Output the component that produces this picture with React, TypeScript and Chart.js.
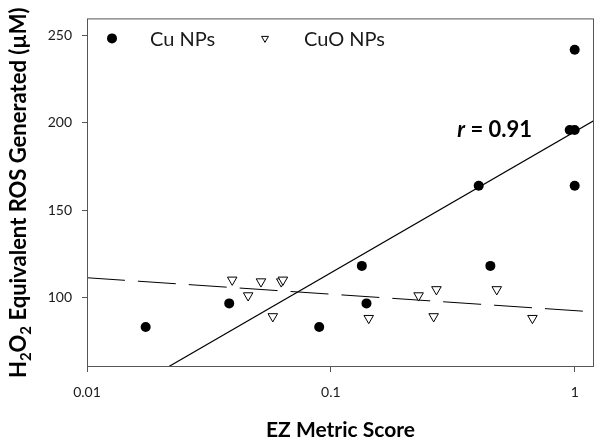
import React, { useEffect, useRef } from 'react';
import { Chart, registerables } from 'chart.js';

Chart.register(...registerables);

// ---- Data ----
const CU_X = [0.0174, 0.0383, 0.0896, 0.134, 0.14, 0.404, 0.451, 0.954, 1.0, 1.0, 1.0];
const CU_Y = [83, 96.5, 83, 118, 96.5, 164, 118, 196, 196, 164, 242];

const CUO_X = [0.0394, 0.0458, 0.0517, 0.0578, 0.0626, 0.0636, 0.143, 0.229, 0.264, 0.271, 0.479, 0.671];
const CUO_Y = [110, 101, 109, 89, 109, 110, 88, 101, 89, 104.5, 104.5, 88];

const FIT_CU_X = [0.0215, 1.2];
const FIT_CU_Y = [60, 201.4];
const FIT_CUO_X = [0.01, 1.2];
const FIT_CUO_Y = [111.2, 91.6];

const X_TICKS = [0.01, 0.1, 1];
const X_TICK_LABELS = ['0.01', '0.1', '1'];
const Y_TICKS = [100, 150, 200, 250];
const Y_TICK_LABELS = ['100', '150', '200', '250'];

const SERIES_NAMES = ['Cu NPs', 'CuO NPs'];
const X_TITLE = 'EZ Metric Score';
const Y_TITLE_PARTS = [
  { t: 'H', sub: false },
  { t: '2', sub: true },
  { t: 'O', sub: false },
  { t: '2', sub: true },
  { t: ' Equivalent ROS Generated (\u00B5M)', sub: false },
];
const R_LABEL_ITALIC = 'r';
const R_LABEL_REST = ' = 0.91';

const FONT = 'Lato';
const FRAME = '#555555';
const TEXT = '#1a1a1a';

const zip = (xs: number[], ys: number[]) => xs.map((x, i) => ({ x, y: ys[i] }));

const decorPlugin = {
  id: 'decor',
  afterDraw(chart: any) {
    const { ctx, chartArea: a } = chart;
    const xs = chart.scales.x;
    const ys = chart.scales.y;
    ctx.save();
    // frame
    ctx.strokeStyle = FRAME;
    ctx.lineWidth = 1;
    ctx.strokeRect(a.left + 0.5, a.top + 0.5, a.right - a.left - 1, a.bottom - a.top - 1);

    // legend
    ctx.fillStyle = '#000';
    const ly = a.top + 20;
    ctx.beginPath();
    ctx.arc(a.left + 25, ly, 5, 0, Math.PI * 2);
    ctx.fill();
    ctx.font = `20px ${FONT}`;
    ctx.textBaseline = 'middle';
    ctx.textAlign = 'left';
    ctx.fillStyle = TEXT;
    ctx.fillText(SERIES_NAMES[0], a.left + 63, ly + 1);
    // triangle legend marker
    const tx = a.left + 178;
    const r = 4;
    ctx.beginPath();
    ctx.moveTo(tx, ly + r);
    ctx.lineTo(tx - r * 0.866, ly - r * 0.5);
    ctx.lineTo(tx + r * 0.866, ly - r * 0.5);
    ctx.closePath();
    ctx.fillStyle = '#fff';
    ctx.fill();
    ctx.strokeStyle = '#000';
    ctx.lineWidth = 1;
    ctx.stroke();
    ctx.fillStyle = TEXT;
    ctx.fillText(SERIES_NAMES[1], a.left + 217, ly + 1);

    // r annotation
    const rx = xs.getPixelForValue(0.33);
    const ry = ys.getPixelForValue(192);
    ctx.textBaseline = 'alphabetic';
    ctx.fillStyle = '#000';
    ctx.font = `italic bold 22px ${FONT}`;
    ctx.fillText(R_LABEL_ITALIC, rx, ry);
    const w0 = ctx.measureText(R_LABEL_ITALIC).width;
    ctx.font = `bold 22px ${FONT}`;
    ctx.fillText(R_LABEL_REST, rx + w0, ry);

    // x title
    ctx.font = `bold 21px ${FONT}`;
    ctx.textAlign = 'center';
    ctx.fillText(X_TITLE, (a.left + a.right) / 2, 437);

    // y title with subscripts
    const big = `bold 22px ${FONT}`;
    const small = `bold 15px ${FONT}`;
    let total = 0;
    const widths = Y_TITLE_PARTS.map((p) => {
      ctx.font = p.sub ? small : big;
      const w = ctx.measureText(p.t).width;
      total += w;
      return w;
    });
    ctx.translate(26, (a.top + a.bottom) / 2);
    ctx.rotate(-Math.PI / 2);
    ctx.textAlign = 'left';
    let cx = -total / 2;
    Y_TITLE_PARTS.forEach((p, i) => {
      ctx.font = p.sub ? small : big;
      ctx.fillText(p.t, cx, p.sub ? 5 : 0);
      cx += widths[i];
    });
    ctx.restore();
  },
};

export default function App() {
  const ref = useRef<HTMLCanvasElement>(null);
  useEffect(() => {
    document.body.style.margin = '0';
    Chart.defaults.font.family = FONT;
    const chart = new Chart(ref.current as HTMLCanvasElement, {
      type: 'scatter',
      data: {
        datasets: [
          {
            label: SERIES_NAMES[0],
            data: zip(CU_X, CU_Y),
            pointStyle: 'circle',
            pointRadius: 5,
            backgroundColor: '#000',
            borderColor: '#000',
            borderWidth: 0,
          },
          {
            label: SERIES_NAMES[1],
            data: zip(CUO_X, CUO_Y),
            pointStyle: 'triangle',
            rotation: 180,
            pointRadius: 5.5,
            backgroundColor: '#fff',
            borderColor: '#000',
            borderWidth: 1,
          },
          {
            type: 'line',
            label: 'Cu fit',
            data: zip(FIT_CU_X, FIT_CU_Y),
            borderColor: '#000',
            borderWidth: 1.2,
            pointRadius: 0,
            showLine: true,
            fill: false,
          } as any,
          {
            type: 'line',
            label: 'CuO fit',
            data: zip(FIT_CUO_X, FIT_CUO_Y),
            borderColor: '#000',
            borderWidth: 1,
            borderDash: [38, 13],
            pointRadius: 0,
            showLine: true,
            fill: false,
          } as any,
        ],
      },
      options: {
        responsive: false,
        animation: false,
        layout: { padding: { top: 11, right: 10, left: 0, bottom: 0 } },
        plugins: { legend: { display: false }, tooltip: { enabled: false } },
        scales: {
          x: {
            type: 'logarithmic',
            min: 0.01,
            max: 1.2,
            afterBuildTicks: (s: any) => {
              s.ticks = X_TICKS.map((v) => ({ value: v }));
            },
            afterFit: (s: any) => {
              s.height = 78;
            },
            ticks: {
              callback: (_v: any, i: number) => X_TICK_LABELS[i],
              autoSkip: false,
              maxRotation: 0,
              padding: 12,
              color: TEXT,
              font: { size: 14, family: FONT },
            },
            grid: { drawOnChartArea: false, drawTicks: true, tickLength: 5, color: FRAME },
            border: { display: false },
          },
          y: {
            type: 'linear',
            min: 60,
            max: 260,
            afterBuildTicks: (s: any) => {
              s.ticks = Y_TICKS.map((v) => ({ value: v }));
            },
            afterFit: (s: any) => {
              s.width = 87;
            },
            ticks: {
              callback: (_v: any, i: number) => Y_TICK_LABELS[i],
              autoSkip: false,
              padding: 10,
              color: TEXT,
              font: { size: 14, family: FONT },
            },
            grid: { drawOnChartArea: false, drawTicks: true, tickLength: 5, color: FRAME },
            border: { display: false },
          },
        },
      } as any,
      plugins: [decorPlugin],
    });
    return () => chart.destroy();
  }, []);
  return (
    <div style={{ width: 604, height: 445 }}>
      <canvas ref={ref} width={604} height={445} style={{ display: 'block' }} />
    </div>
  );
}
